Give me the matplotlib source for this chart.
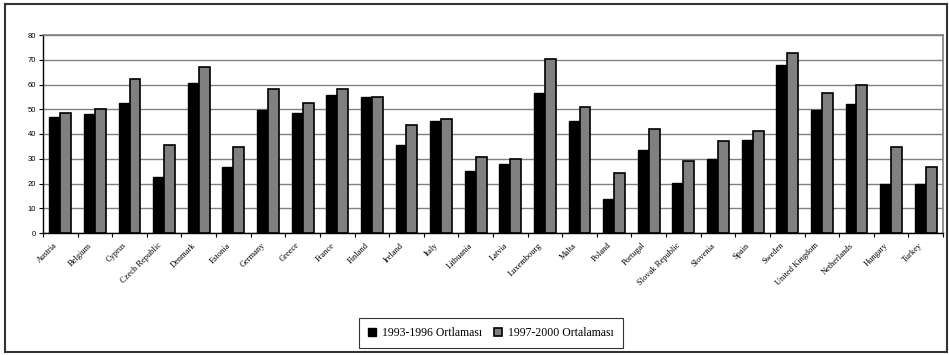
import matplotlib.pyplot as plt
import matplotlib.transforms as mtransforms
import numpy as np
from matplotlib.patches import Rectangle

countries = ["Austria", "Belgium", "Cyprus", "Czech Republic", "Denmark", "Estonia",
             "Germany", "Greece", "France", "Finland", "Ireland", "Italy", "Lithuania",
             "Latvia", "Luxembourg", "Malta", "Poland", "Portugal", "Slovak Republic",
             "Slovenia", "Spain", "Sweden", "United Kingdom", "Netherlands", "Hungary",
             "Turkey"]
avg_1993_1996 = [47, 48, 52.5, 22.8, 60.7, 26.8, 49.5, 48.6, 55.8, 54.9, 35.7, 45.4, 25.2,
                 27.8, 56.7, 45.4, 13.9, 33.4, 20.4, 30.1, 37.4, 68, 49.5, 52, 20, 20]
avg_1997_2000 = [48.4, 50.2, 62.2, 35.6, 67, 34.8, 58.2, 52.5, 58.2, 54.9, 43.6, 46.2, 30.9,
                 29.9, 70.3, 50.9, 24.3, 42.2, 29.1, 37.2, 41.2, 72.8, 56.5, 59.8, 34.9, 26.7]
series_labels = ["1993-1996 Ortlaması", "1997-2000 Ortalaması"]

fig = plt.figure(figsize=(9.49, 3.55), dpi=100)
ax = fig.add_axes([43 / 949, 122 / 355, 900 / 949, 198 / 355])

x = np.arange(len(countries))
w = 0.315
ax.bar(x - w / 2, avg_1993_1996, w, color="black", edgecolor="black", linewidth=1,
       label=series_labels[0], zorder=3)
ax.bar(x + w / 2, avg_1997_2000, w, color="#808080", edgecolor="black", linewidth=1.2,
       label=series_labels[1], zorder=3)

ax.set_xlim(-0.5, len(countries) - 0.5)
ax.set_ylim(0, 80)
ax.set_yticks(np.arange(0, 81, 10))
ax.yaxis.grid(True, color="#808080", linewidth=1, zorder=0)
ax.tick_params(axis="y", labelsize=5.5, length=3, width=0.8, pad=2)
for t in ax.get_yticklabels():
    t.set_family("Liberation Sans")

ax.set_xticks(x)
ax.set_xticklabels(countries, rotation=45, ha="right", rotation_mode="anchor",
                   fontsize=6, family="Liberation Serif")
ax.tick_params(axis="x", which="major", length=0, pad=6)
shift = mtransforms.ScaledTranslation(-7 / 100, 0, fig.dpi_scale_trans)
for t in ax.get_xticklabels():
    t.set_transform(t.get_transform() + shift)
ax.set_xticks(np.arange(-0.5, len(countries)), minor=True)
ax.tick_params(axis="x", which="minor", length=3, width=0.8)

for side in ("top", "right"):
    ax.spines[side].set_color("#808080")
    ax.spines[side].set_linewidth(1.2)
for side in ("left", "bottom"):
    ax.spines[side].set_color("black")
    ax.spines[side].set_linewidth(1)

leg = fig.legend(loc="center", bbox_to_anchor=(491 / 949, 22 / 355), ncol=2,
                 frameon=True, fancybox=False, edgecolor="black", handlelength=0.7,
                 handleheight=0.7, handletextpad=0.5, columnspacing=1.0, borderpad=0.8,
                 prop={"family": "Liberation Serif", "size": 8.5})
leg.get_frame().set_linewidth(0.8)

# outer frame around the whole chart
fig.patches.append(Rectangle((5 / 949, 3 / 355), 942 / 949, 348 / 355,
                             transform=fig.transFigure, fill=False,
                             edgecolor="#333333", linewidth=1.5))

fig.savefig("out.png", dpi=100)
